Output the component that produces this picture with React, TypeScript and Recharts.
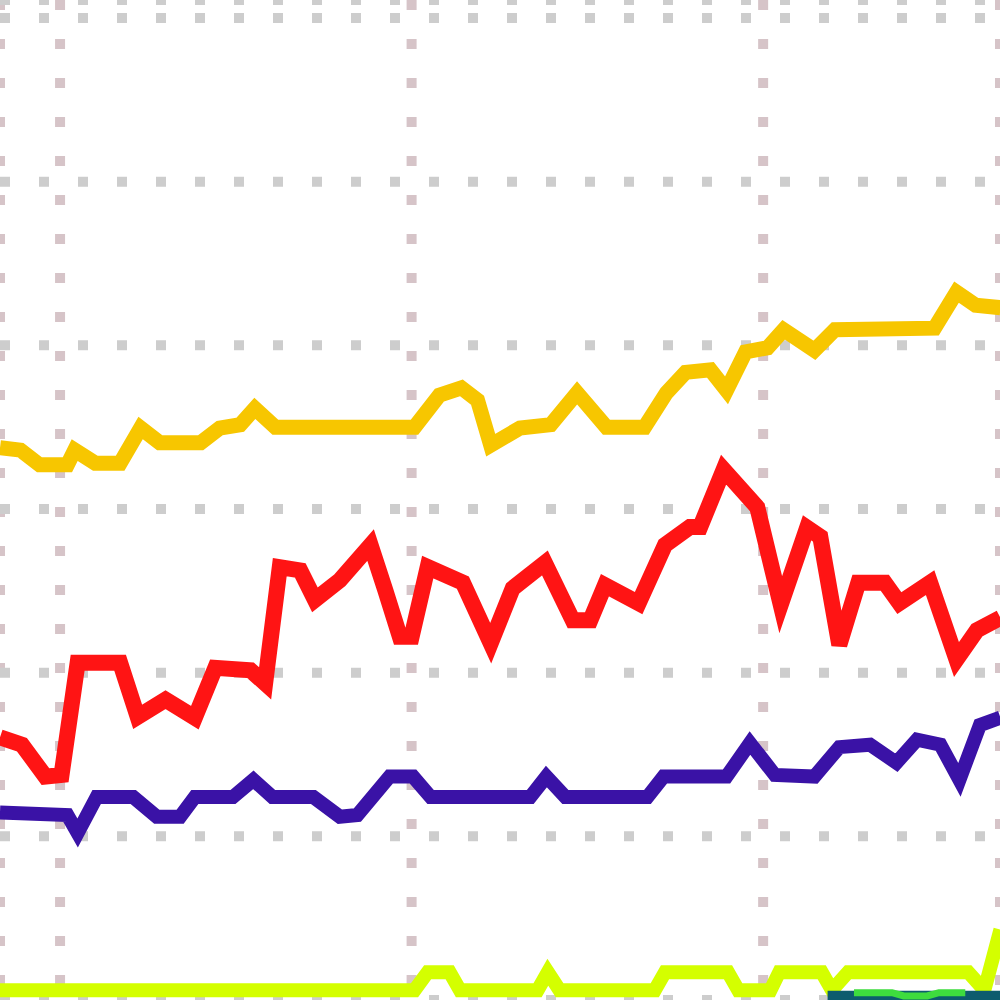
import React from 'react';
import { LineChart, Line, XAxis, YAxis, CartesianGrid } from 'recharts';

// period index (x) and value (y) pairs
const goldSeries = [
  [-4.1, 47.5], [-2.7, 47.2], [-1.4, 45.4], [0.5, 45.4], [1.0, 47.2], [2.4, 45.6], [4.1, 45.6],
  [5.5, 49.9], [6.8, 48.1], [9.6, 48.1], [10.9, 49.9], [12.3, 50.3], [13.3, 52.3], [14.7, 50.0],
  [24.2, 50.0], [25.9, 53.9], [27.4, 54.8], [28.5, 53.3], [29.4, 47.8], [31.4, 49.9], [33.5, 50.3],
  [35.3, 54.2], [37.3, 50.0], [39.9, 50.0], [41.4, 54.2], [42.7, 56.7], [44.4, 57.0], [45.5, 54.5],
  [46.8, 59.2], [48.3, 59.7], [49.4, 61.9], [51.5, 59.4], [52.9, 61.9], [59.7, 62.1], [61.2, 66.5],
  [62.5, 64.9], [64.2, 64.6],
];

const redSeries = [
  [-4.1, 12.1], [-2.6, 11.2], [-1.0, 7.3], [0.1, 7.5], [1.2, 21.2], [4.1, 21.2], [5.3, 14.6],
  [7.2, 16.7], [9.2, 14.5], [10.6, 20.6], [13.0, 20.3], [14.0, 18.7], [15.0, 32.9], [16.4, 32.5],
  [17.4, 28.9], [19.1, 31.3], [21.2, 35.6], [22.2, 30.1], [23.2, 24.4], [24.0, 24.4], [25.1, 32.9],
  [27.5, 31.0], [29.4, 23.6], [30.9, 30.3], [33.1, 33.4], [35.0, 26.4], [36.2, 26.4], [37.2, 30.7],
  [39.5, 28.5], [41.3, 35.6], [43.0, 37.8], [43.7, 37.8], [45.3, 44.8], [47.6, 40.2], [49.2, 28.3],
  [51.0, 37.7], [51.9, 36.6], [53.2, 23.4], [54.5, 31.0], [56.3, 31.0], [57.3, 28.5], [59.4, 31.0],
  [61.2, 21.6], [62.6, 25.2], [64.2, 26.7],
];

const blueSeries = [
  [-4.1, 2.9], [0.5, 2.6], [1.2, 0.4], [2.5, 4.8], [5.0, 4.8], [6.6, 2.4], [8.2, 2.4], [9.2, 4.8],
  [11.8, 4.8], [13.2, 6.9], [14.5, 4.8], [17.3, 4.8], [19.1, 2.4], [20.3, 2.6], [22.5, 7.3],
  [24.1, 7.3], [25.3, 4.8], [32.1, 4.8], [33.2, 7.3], [34.5, 4.8], [40.1, 4.8], [41.2, 7.3],
  [45.5, 7.3], [47.1, 11.4], [48.8, 7.5], [51.5, 7.3], [53.2, 10.9], [55.3, 11.2], [57.1, 9.0],
  [58.5, 11.8], [60.1, 11.2], [61.4, 6.9], [62.8, 13.6], [64.2, 14.5],
];

const limeSeries = [
  [-4.1, -18.8], [24.2, -18.8], [25.1, -16.6], [26.6, -16.6], [27.3, -18.8], [32.6, -18.8],
  [33.3, -16.6], [34.1, -18.8], [40.6, -18.8], [41.3, -16.6], [45.6, -16.6], [46.3, -18.8],
  [48.5, -18.8], [49.1, -16.6], [52.0, -16.6], [52.7, -18.8], [53.8, -16.6], [62.0, -16.6],
  [63.1, -18.8], [64.2, -11.4],
];

const tealSeries = [[52.4, -19.6], [64.2, -19.6]];

const greenSeries = [[54.2, -19.1], [56.8, -19.1], [57.6, -19.5], [59.2, -19.5], [60.0, -19.1], [61.8, -19.1]];

const xTicks = [0, 24, 48];
const yTicks = [0, 20, 40, 60, 80, 100];

const toPoints = (s: number[][]) => s.map(([x, y]) => ({ x, y }));

const series = [
  { name: 'gold', data: toPoints(goldSeries), color: '#f7c600', width: 15 },
  { name: 'red', data: toPoints(redSeries), color: '#ff1414', width: 16 },
  { name: 'blue', data: toPoints(blueSeries), color: '#3a12a6', width: 14 },
  { name: 'lime', data: toPoints(limeSeries), color: '#d4ff00', width: 14 },
  { name: 'teal', data: toPoints(tealSeries), color: '#0d5c6e', width: 12 },
  { name: 'green', data: toPoints(greenSeries), color: '#3edc3e', width: 7 },
];

export default function App() {
  return (
    <div style={{ position: 'absolute', left: 0, top: 0, width: 1000, height: 1000, overflow: 'hidden', background: '#fff' }}>
      <LineChart width={1000} height={1000} margin={{ top: 0, right: 0, bottom: 0, left: 0 }}>
        <CartesianGrid horizontal={false} stroke="#d6c4c8" strokeWidth={10} strokeDasharray="10 29" />
        <CartesianGrid vertical={false} stroke="#cdcdcd" strokeWidth={10} strokeDasharray="10 29" />
        <XAxis type="number" dataKey="x" hide domain={[-4.1, 64.17]} ticks={xTicks} allowDataOverflow />
        <YAxis type="number" dataKey="y" hide domain={[-20, 102.2]} ticks={yTicks} allowDataOverflow />
        {series.map((s) => (
          <Line
            key={s.name}
            data={s.data}
            dataKey="y"
            type="linear"
            stroke={s.color}
            strokeWidth={s.width}
            dot={false}
            activeDot={false}
            isAnimationActive={false}
          />
        ))}
      </LineChart>
    </div>
  );
}
